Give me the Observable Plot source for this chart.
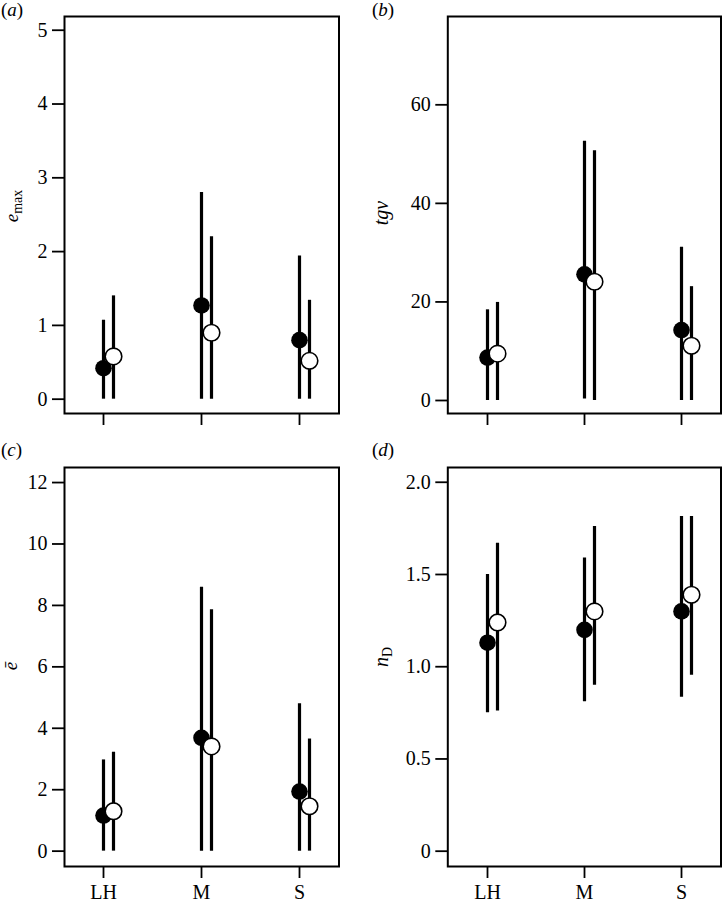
<!DOCTYPE html>
<html><head><meta charset="utf-8">
<script src="https://cdn.jsdelivr.net/npm/d3@7"></script>
<script src="https://cdn.jsdelivr.net/npm/@observablehq/plot@0.6"></script>
<style>
body{margin:0;background:#fff;}
#wrap{position:relative;width:722px;height:903px;font-family:"Liberation Serif","Times New Roman",Times,serif;overflow:hidden;}
.panel{position:absolute;}
#labels{position:absolute;left:0;top:0;pointer-events:none;font-family:"Liberation Serif","Times New Roman",Times,serif;}
</style></head><body>
<div id="wrap">
 <div class="panel" id="pa" style="left:0;top:0"></div>
 <div class="panel" id="pb" style="left:361px;top:0"></div>
 <div class="panel" id="pc" style="left:0;top:440px"></div>
 <div class="panel" id="pd" style="left:361px;top:440px"></div>
 <svg id="labels" width="722" height="903" font-size="19" fill="black">
  <text x="1" y="16">(<tspan font-style="italic">a</tspan>)</text>
  <text x="372" y="16">(<tspan font-style="italic">b</tspan>)</text>
  <text x="1" y="456">(<tspan font-style="italic">c</tspan>)</text>
  <text x="372" y="456">(<tspan font-style="italic">d</tspan>)</text>
  <text transform="translate(18,206) rotate(-90)" text-anchor="middle" font-size="19"><tspan font-style="italic">e</tspan><tspan font-size="14" dy="4">max</tspan></text>
  <text transform="translate(388,213) rotate(-90)" text-anchor="middle" font-size="20" font-style="italic">tgv</text>
  <text transform="translate(17,666) rotate(-90)" text-anchor="middle" font-size="19" font-style="italic">ē</text>
  <text transform="translate(388,657) rotate(-90)" text-anchor="middle" font-size="20"><tspan font-style="italic">n</tspan><tspan font-size="14" dy="4">D</tspan></text>
 </svg>
</div>
<script>
// categories
const cats = ["LH", "M", "S"];

// (a) e_max
const aFilledMean = [0.42, 1.27, 0.80];
const aFilledLo   = [0, 0, 0];
const aFilledHi   = [1.07, 2.80, 1.94];
const aOpenMean   = [0.58, 0.90, 0.52];
const aOpenLo     = [0, 0, 0];
const aOpenHi     = [1.40, 2.20, 1.34];
const aTicks      = [0, 1, 2, 3, 4, 5];
const aTickLabels = ["0", "1", "2", "3", "4", "5"];

// (b) tgv
const bFilledMean = [8.7, 25.6, 14.3];
const bFilledLo   = [0, 0.3, 0];
const bFilledHi   = [18.4, 52.6, 31.1];
const bOpenMean   = [9.5, 24.1, 11.1];
const bOpenLo     = [0, 0, 0];
const bOpenHi     = [19.9, 50.7, 23.1];
const bTicks      = [0, 20, 40, 60];
const bTickLabels = ["0", "20", "40", "60"];

// (c) e-bar
const cFilledMean = [1.16, 3.69, 1.94];
const cFilledLo   = [0, 0, 0];
const cFilledHi   = [2.97, 8.59, 4.80];
const cOpenMean   = [1.30, 3.41, 1.46];
const cOpenLo     = [0, 0, 0];
const cOpenHi     = [3.22, 7.86, 3.65];
const cTicks      = [0, 2, 4, 6, 8, 10, 12];
const cTickLabels = ["0", "2", "4", "6", "8", "10", "12"];

// (d) n_D
const dFilledMean = [1.13, 1.20, 1.30];
const dFilledLo   = [0.75, 0.81, 0.835];
const dFilledHi   = [1.50, 1.59, 1.815];
const dOpenMean   = [1.24, 1.30, 1.39];
const dOpenLo     = [0.76, 0.90, 0.954];
const dOpenHi     = [1.67, 1.76, 1.815];
const dTicks      = [0, 0.5, 1.0, 1.5, 2.0];
const dTickLabels = ["0", "0.5", "1.0", "1.5", "2.0"];

const FONT = "'Liberation Serif', 'Times New Roman', Times, serif";

function rows(mean, lo, hi) {
  return cats.map((c, i) => ({cat: c, m: mean[i], lo: lo[i], hi: hi[i]}));
}

function panel(id, o) {
  const labelMap = new Map(o.ticks.map((t, i) => [t, o.tickLabels[i]]));
  const filled = rows(o.fm, o.flo, o.fhi);
  const open = rows(o.om, o.olo, o.ohi);
  const chart = Plot.plot({
    width: 361,
    height: o.height,
    marginLeft: o.ml,
    marginRight: o.mr,
    marginTop: o.mt,
    marginBottom: o.mb,
    style: {fontFamily: FONT, fontSize: "20px", color: "black", background: "white", overflow: "visible"},
    x: {type: "point", domain: cats, padding: 0.4, label: null},
    y: {domain: o.yDomain, label: null},
    marks: [
      Plot.frame({stroke: "black", strokeWidth: 2}),
      Plot.axisY({ticks: o.ticks, tickFormat: d => labelMap.get(d), tickSize: 12, tickPadding: 5,
        strokeWidth: 1.8, label: null, fontSize: 20, fontFamily: FONT}),
      Plot.axisX({tickSize: 12, tickPadding: 6, strokeWidth: 1.8, label: null, fontSize: 20, fontFamily: FONT,
        tickFormat: o.xLabels ? (d => d) : (() => "")}),
      Plot.ruleX(filled, {x: "cat", y1: "lo", y2: "hi", stroke: "black", strokeWidth: 3.2}),
      Plot.dot(filled, {x: "cat", y: "m", r: 8.3, fill: "black", stroke: null}),
      Plot.ruleX(open, {x: "cat", y1: "lo", y2: "hi", stroke: "black", strokeWidth: 3.2, dx: 10}),
      Plot.dot(open, {x: "cat", y: "m", r: 8.3, fill: "white", stroke: "black", strokeWidth: 1.6, dx: 10})
    ]
  });
  document.getElementById(id).appendChild(chart);
}

panel("pa", {height: 440, ml: 64, mr: 22.5, mt: 16, mb: 27, yDomain: [-0.194, 5.186],
  ticks: aTicks, tickLabels: aTickLabels, xLabels: false,
  fm: aFilledMean, flo: aFilledLo, fhi: aFilledHi, om: aOpenMean, olo: aOpenLo, ohi: aOpenHi});
panel("pb", {height: 440, ml: 86.3, mr: 1.5, mt: 16, mb: 27, yDomain: [-2.64, 77.92],
  ticks: bTicks, tickLabels: bTickLabels, xLabels: false,
  fm: bFilledMean, flo: bFilledLo, fhi: bFilledHi, om: bOpenMean, olo: bOpenLo, ohi: bOpenHi});
panel("pc", {height: 463, ml: 64, mr: 22.5, mt: 27, mb: 37, yDomain: [-0.5, 12.49],
  ticks: cTicks, tickLabels: cTickLabels, xLabels: true,
  fm: cFilledMean, flo: cFilledLo, fhi: cFilledHi, om: cOpenMean, olo: cOpenLo, ohi: cOpenHi});
panel("pd", {height: 463, ml: 86.3, mr: 1.5, mt: 27, mb: 37, yDomain: [-0.083, 2.08],
  ticks: dTicks, tickLabels: dTickLabels, xLabels: true,
  fm: dFilledMean, flo: dFilledLo, fhi: dFilledHi, om: dOpenMean, olo: dOpenLo, ohi: dOpenHi});
</script>
</body></html>
